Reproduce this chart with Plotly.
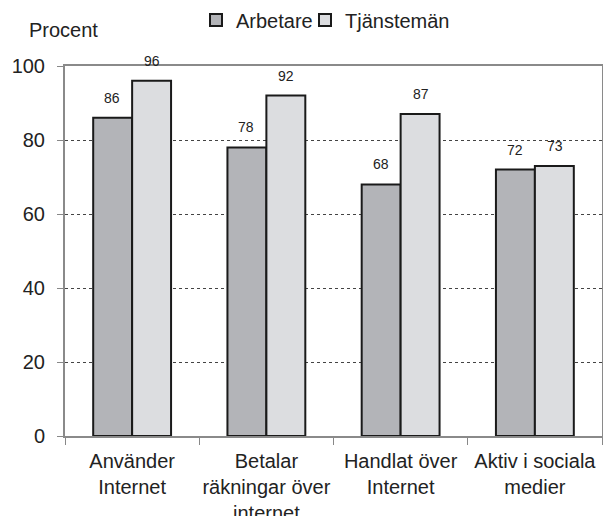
import plotly.graph_objects as go

categories = ["Använder<br>Internet", "Betalar<br>räkningar över<br>internet", "Handlat över<br>Internet", "Aktiv i sociala<br>medier"]
arbetare = [86, 78, 68, 72]
tjansteman = [96, 92, 87, 73]
series_names = ["Arbetare", "Tjänstemän"]
colors = ["#b3b4b8", "#dcdde0"]
y_ticks = [0, 20, 40, 60, 80, 100]

FONT = "Liberation Sans, Arial, sans-serif"
# page body has an 8px margin; size the figure so it fits the 611x516 window
W = 603
H = 508
L, R, T, B = 57, 9, 58, 80
PW = W - L - R
PH = H - T - B

fig = go.Figure()
for name, vals, col, lg in zip(series_names, [arbetare, tjansteman], colors, ["legend", "legend2"]):
    fig.add_trace(go.Bar(
        x=categories, y=vals, name=name, legend=lg,
        marker=dict(color=col, line=dict(color="#1a1a1a", width=2)),
    ))

# value labels
for i, vals in enumerate([arbetare, tjansteman]):
    for c, v in zip(categories, vals):
        fig.add_annotation(
            x=c, y=v, text=str(v), showarrow=False,
            xshift=(-20 if i == 0 else 20), yshift=20,
            font=dict(family=FONT, size=14, color="#222"),
        )

fig.add_annotation(
    x=(19 - L) / PW, y=1 + (T - 22) / PH, xref="paper", yref="paper", text="Procent",
    showarrow=False, xanchor="left", yanchor="middle",
    font=dict(family=FONT, size=20, color="#222"),
)

legend_style = dict(orientation="h", xanchor="left", yref="container",
                    y=1 - 12 / H, yanchor="middle",
                    font=dict(family=FONT, size=20, color="#222"),
                    itemwidth=30, tracegroupgap=0, bgcolor="rgba(0,0,0,0)")

fig.update_layout(
    width=W, height=H,
    margin=dict(l=L, r=R, t=T, b=B, autoexpand=False),
    paper_bgcolor="white", plot_bgcolor="white",
    barmode="group", bargap=0.42, bargroupgap=0,
    font=dict(family=FONT, size=20, color="#222"),
    showlegend=True,
    legend=dict(x=(188 - L) / PW, **legend_style),
    legend2=dict(x=(297 - L) / PW, **legend_style),
)
fig.update_yaxes(
    range=[0, 100], tickvals=y_ticks, ticks="outside", ticklen=6, tickcolor="#888",
    ticklabelstandoff=8,
    showgrid=True, gridcolor="#444", griddash="dot", gridwidth=1,
    showline=True, linecolor="#8a8a8a", linewidth=2, mirror=True,
    tickfont=dict(family=FONT, size=20, color="#222"), zeroline=False, automargin=False,
)
fig.update_xaxes(
    ticks="outside", ticklen=7, tickcolor="#888", tickson="boundaries", tickangle=0,
    ticklabelstandoff=6,
    showline=True, linecolor="#8a8a8a", linewidth=2, mirror=True,
    tickfont=dict(family=FONT, size=20, color="#222"), automargin=False,
)

fig.write_html("out.html")
